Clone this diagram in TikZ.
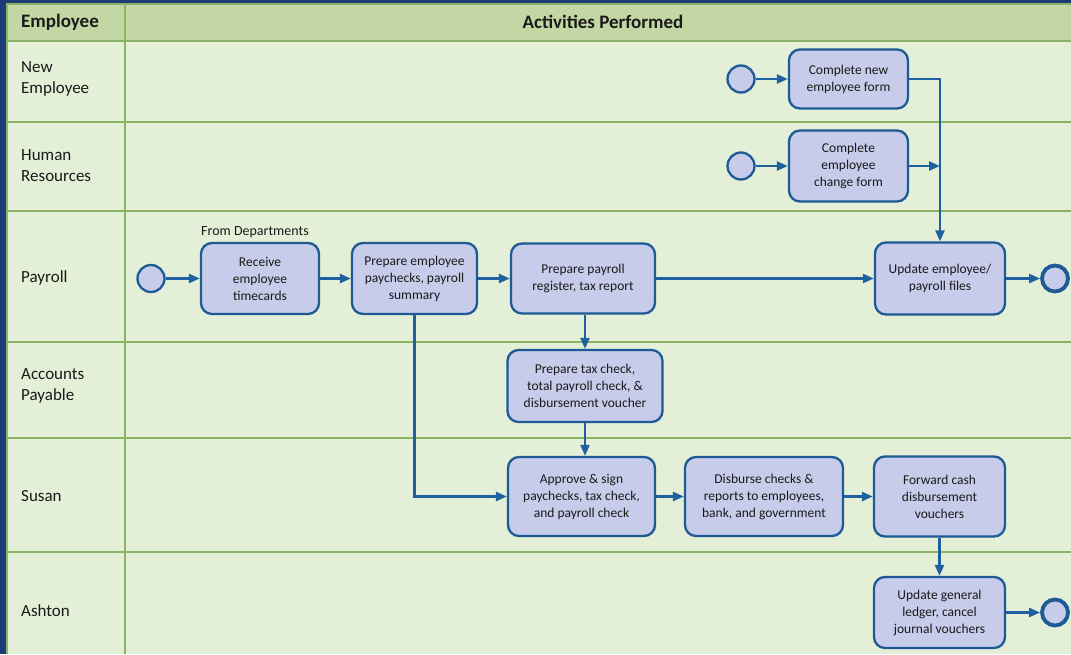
\documentclass[tikz,border=0pt]{standalone}
\usepackage{fontspec}
\setmainfont{Carlito}
\usetikzlibrary{arrows.meta}
\definecolor{bgblue}{HTML}{1C3C78}
\definecolor{hdrgreen}{HTML}{C3D7A5}
\definecolor{bodygreen}{HTML}{E3EFD6}
\definecolor{gridgreen}{HTML}{8AB366}
\definecolor{boxfill}{HTML}{C7CCEA}
\definecolor{boxline}{HTML}{1E5A96}
\definecolor{flow}{HTML}{1E60A0}
\definecolor{ink}{HTML}{1A1A1A}
\begin{document}
\begin{tikzpicture}[x=1pt,y=-1pt,
  task/.style={draw=boxline, line width=2.3pt, fill=boxfill, rounded corners=11pt, align=center, text=ink,
    font=\fontsize{13.5}{17}\selectfont, inner sep=2pt},
  startev/.style={circle, draw=boxline, line width=2.3pt, fill=boxfill, minimum size=27pt, inner sep=0pt},
  endev/.style={circle, draw=boxline, line width=3.8pt, fill=boxfill, minimum size=26pt, inner sep=0pt},
  flowarrow/.style={draw=flow, line width=2.4pt, -{Triangle[length=11pt,width=9pt]}},
  lane/.style={anchor=west, align=left, text=ink, font=\fontsize{17}{21}\selectfont, inner sep=0pt},
  hdr/.style={text=ink, font=\fontsize{19}{22}\selectfont\bfseries, inner sep=0pt},
  gridline/.style={draw=gridgreen, line width=2pt}]
\useasboundingbox (0,0) rectangle (1071,654);
% background and table
\fill[bgblue] (0,0) rectangle (1071,654);
\fill[hdrgreen] (7,4) rectangle (1071,41);
\fill[bodygreen] (7,41) rectangle (1071,654);
\draw[gridline] (7,654) -- (7,4) -- (1071,4);
\foreach \yy in {41,122,211,342,438,552} \draw[gridline] (7,\yy) -- (1071,\yy);
\draw[gridline] (125,4) -- (125,654);
% header
\node[hdr, anchor=west] (hEmp) at (21,22) {Employee};
\node[hdr] (hAct) at (603,22) {Activities Performed};
% lane labels
\node[lane] (lNew) at (21,79) {New\\Employee};
\node[lane] (lHR) at (21,166) {Human\\Resources};
\node[lane] (lPay) at (21,278) {Payroll};
\node[lane] (lAP) at (21,386) {Accounts\\Payable};
\node[lane] (lSus) at (21,496) {Susan};
\node[lane] (lAsh) at (21,611) {Ashton};
% events
\node[startev] (neS) at (741,79) {};
\node[startev] (hrS) at (741,166) {};
\node[startev] (pS) at (151,278.5) {};
\node[endev] (pE) at (1055,278.5) {};
\node[endev] (aE) at (1055,612.5) {};
% tasks
\node[task, minimum width=119pt, minimum height=59pt] (neT) at (848.5,79) {Complete new\\employee form};
\node[task, minimum width=119pt, minimum height=71pt] (hrT) at (848.5,166) {Complete\\employee\\change form};
\node[task, minimum width=118pt, minimum height=71pt] (recv) at (260,278.5) {Receive\\employee\\timecards};
\node[anchor=base west, inner sep=0pt, text=ink, font=\fontsize{14}{16}\selectfont] (fromDep) at (201,235) {From Departments};
\node[task, minimum width=125pt, minimum height=71pt] (prep) at (414.5,278.5) {Prepare employee\\paychecks, payroll\\summary};
\node[task, minimum width=144pt, minimum height=70pt] (reg) at (583,278.5) {Prepare payroll\\register, tax report};
\node[task, minimum width=130pt, minimum height=72pt] (upd) at (940,278.5) {Update employee/\\payroll files};
\node[task, minimum width=155pt, minimum height=72pt] (tax) at (585,386) {Prepare tax check,\\total payroll check, \&\\disbursement voucher};
\node[task, minimum width=147pt, minimum height=79pt] (appr) at (581.5,496.5) {Approve \& sign\\paychecks, tax check,\\and payroll check};
\node[task, minimum width=158pt, minimum height=79pt] (disb) at (764,496.5) {Disburse checks \&\\reports to employees,\\bank, and government};
\node[task, minimum width=131pt, minimum height=80pt] (fwd) at (939.5,496.5) {Forward cash\\disbursement\\vouchers};
\node[task, minimum width=131pt, minimum height=71pt] (ledg) at (939.5,612.5) {Update general\\ledger, cancel\\journal vouchers};
% connectors
\draw[flowarrow] (neS) -- (neT);
\draw[flowarrow] (hrS) -- (hrT);
\draw[flowarrow] (neT.east) -| (upd.north);
\draw[flowarrow] (hrT.east) -- (hrT.east -| upd.north);
\draw[flowarrow] (pS) -- (recv);
\draw[flowarrow] (recv) -- (prep);
\draw[flowarrow] (prep) -- (reg);
\draw[flowarrow] (reg) -- (upd);
\draw[flowarrow] (upd) -- (pE);
\draw[flowarrow] (tax.north |- reg.south) -- (tax.north);
\draw[flowarrow] (tax.south) -- (tax.south |- appr.north);
\draw[flowarrow] (prep.south) |- (appr.west);
\draw[flowarrow] (appr) -- (disb);
\draw[flowarrow] (disb) -- (fwd);
\draw[flowarrow] (fwd) -- (ledg);
\draw[flowarrow] (ledg) -- (aE);
\end{tikzpicture}
\end{document}
